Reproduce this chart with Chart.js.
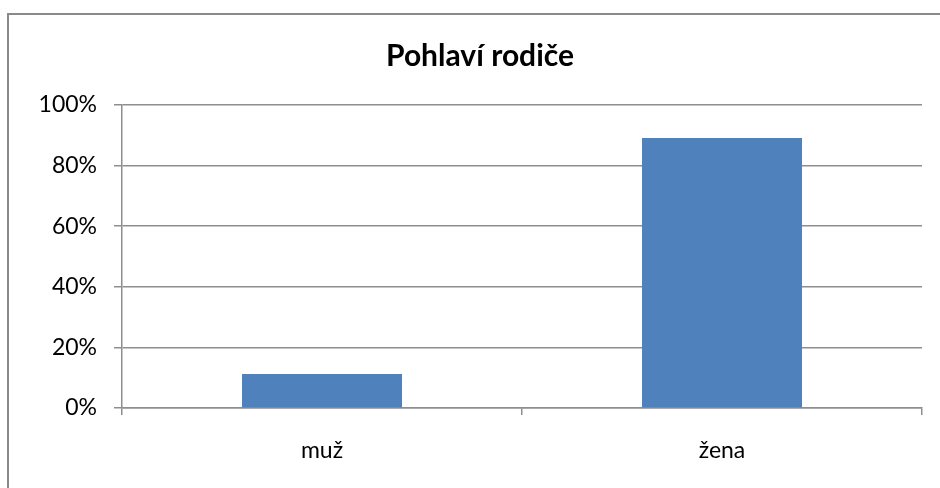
<!DOCTYPE html>
<html lang="cs">
  <head>
    <meta charset="UTF-8" />
    <title>Pohlaví rodiče</title>
    <script src="https://cdn.jsdelivr.net/npm/chart.js@4.4.1/dist/chart.umd.min.js"></script>
    <style>
      body { margin: 0; background: #fff; }
      #wrap { width: 940px; height: 488px; }
    </style>
  </head>
  <body>
    <div id="wrap"><canvas id="myChart"></canvas></div>

    <script>
      const categories = ["muž", "žena"];
      const shares = [11.2, 89.1]; // percent
      const yTicks = [0, 20, 40, 60, 80, 100];

      // outer frame of the chart, as in the spreadsheet export
      const frame = {
        id: "frame",
        beforeDraw(chart) {
          const c = chart.ctx;
          c.save();
          c.strokeStyle = "#8a8a8a";
          c.lineWidth = 2;
          c.strokeRect(8, 14, 940, 488);
          c.restore();
        },
      };

      const grey = "#8e8e8e";
      const font = { family: "Lato", size: 23 };

      new Chart(document.getElementById("myChart"), {
        type: "bar",
        data: {
          labels: categories,
          datasets: [
            {
              data: shares,
              backgroundColor: "#4f81bd",
              barPercentage: 1,
              categoryPercentage: 0.4,
            },
          ],
        },
        options: {
          responsive: true,
          maintainAspectRatio: false,
          animation: false,
          // left padding only to centre the title over the whole frame
          layout: { padding: { left: 38, right: 18, top: 0, bottom: 0 } },
          plugins: {
            legend: { display: false },
            tooltip: { enabled: false },
            title: {
              display: true,
              text: "Pohlaví rodiče",
              color: "#000",
              font: { family: "Lato", size: 30, weight: "bold", lineHeight: 1 },
              padding: { top: 41, bottom: 34 },
            },
          },
          scales: {
            x: {
              offset: true,
              grid: {
                offset: true,
                drawOnChartArea: false,
                drawTicks: true,
                tickLength: 7,
                color: grey,
                lineWidth: 1.5,
              },
              border: { color: grey, width: 1.5 },
              ticks: { color: "#000", font: font, padding: 22 },
              afterFit(scale) { scale.height = 80; },
            },
            y: {
              min: 0,
              max: 100,
              afterBuildTicks(scale) {
                scale.ticks = yTicks.map((v) => ({ value: v }));
              },
              grid: { color: grey, lineWidth: 1.5, tickLength: 8 },
              border: { color: grey, width: 1.5 },
              ticks: {
                color: "#000",
                font: font,
                padding: 17,
                callback: (v) => v + "%",
              },
              afterFit(scale) { scale.width = 84; },
            },
          },
        },
        plugins: [frame],
      });
    </script>
  </body>
</html>
